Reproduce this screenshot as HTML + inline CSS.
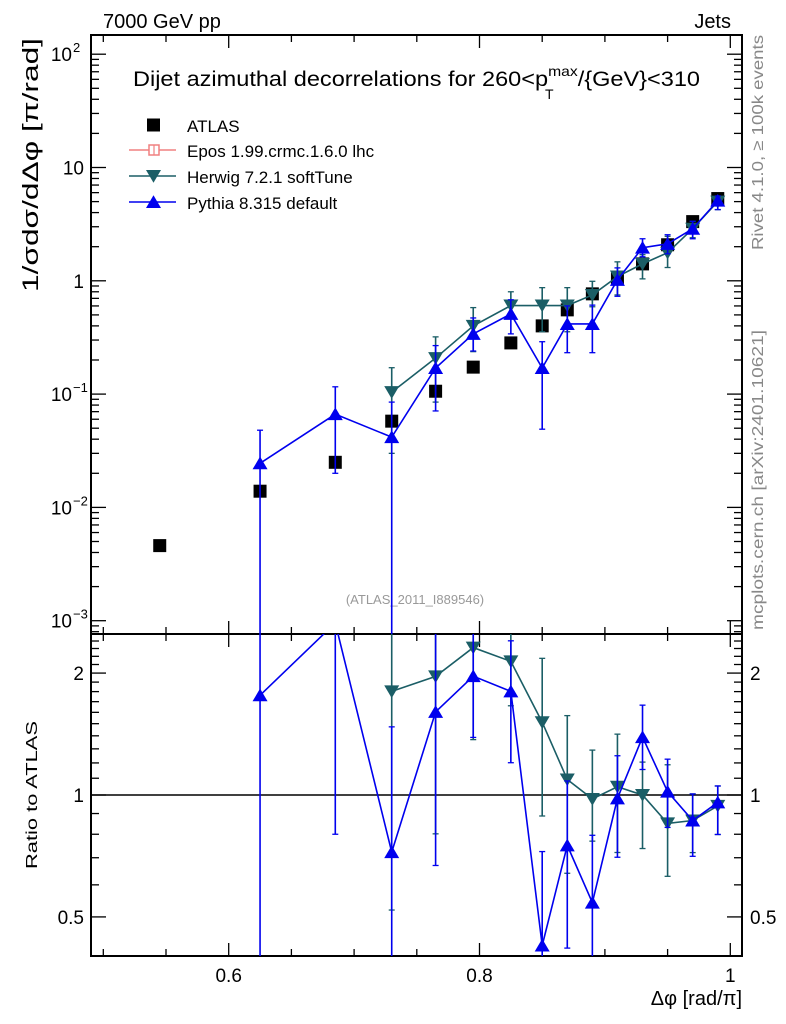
<!DOCTYPE html>
<html><head><meta charset="utf-8"><style>
html,body{margin:0;padding:0;background:#fff;width:786px;height:1024px;overflow:hidden;}
svg{display:block;font-family:"Liberation Sans",sans-serif;}
</style></head><body>
<svg id="chart" width="786" height="1024" viewBox="0 0 786 1024" xmlns="http://www.w3.org/2000/svg">
<defs>
<clipPath id="clipMain"><rect x="91" y="35" width="651" height="599"/></clipPath>
<clipPath id="clipRatio"><rect x="91" y="634" width="651" height="322"/></clipPath>
</defs>
<rect x="0" y="0" width="786" height="1024" fill="#fff"/>
<text x="103" y="28" font-size="20">7000 GeV pp</text>
<text x="731" y="28" font-size="20" text-anchor="end">Jets</text>
<text x="133" y="86" font-size="21" textLength="567" lengthAdjust="spacingAndGlyphs">Dijet azimuthal decorrelations for 260&lt;p<tspan font-size="14" dy="-10">max</tspan><tspan dy="10">/{GeV}&lt;310</tspan></text>
<text x="545" y="99" font-size="14">T</text>
<text transform="translate(38,292) rotate(-90)" font-size="22" textLength="254" lengthAdjust="spacingAndGlyphs">1/σdσ/dΔφ [π/rad]</text>
<text transform="translate(37,869) rotate(-90)" font-size="16" textLength="148" lengthAdjust="spacingAndGlyphs">Ratio to ATLAS</text>
<text x="742" y="1005" font-size="20" text-anchor="end">Δφ [rad/π]</text>
<text transform="translate(763,250) rotate(-90)" font-size="16" fill="#888" textLength="215" lengthAdjust="spacingAndGlyphs">Rivet 4.1.0, ≥ 100k events</text>
<text transform="translate(763,630) rotate(-90)" font-size="16" fill="#888" textLength="300" lengthAdjust="spacingAndGlyphs">mcplots.cern.ch [arXiv:2401.10621]</text>
<text x="415" y="604" font-size="13" fill="#999" text-anchor="middle">(ATLAS_2011_I889546)</text>
<g id="axes"></g>
<g id="mainMarks" clip-path="url(#clipMain)"></g>
<g id="ratioMarks" clip-path="url(#clipRatio)"></g>
<g id="legend"></g>
</svg>
<script>
const xBins = [0.545,0.625,0.685,0.73,0.765,0.795,0.825,0.85,0.87,0.89,0.91,0.93,0.95,0.97,0.99];
const atlasVals = [0.0046,0.0139,0.025,0.0577,0.106,0.173,0.283,0.40,0.554,0.767,1.04,1.41,2.08,3.33,5.32];
const herwigX = [0.73,0.765,0.795,0.825,0.85,0.87,0.89,0.91,0.93,0.95,0.97,0.99];
const herwigVals = [0.104,0.208,0.40,0.605,0.605,0.605,0.75,1.09,1.41,1.77,2.88,5.0];
const herwigUp = [0.171,0.32,0.58,0.80,0.87,0.87,0.99,1.47,1.7,2.47,3.35,5.6];
const herwigDn = [0.03,0.085,0.237,0.47,0.355,0.355,0.59,0.75,1.04,1.31,2.4,4.25];
const pythiaX = [0.625,0.685,0.73,0.765,0.795,0.825,0.85,0.87,0.89,0.91,0.93,0.95,0.97,0.99];
const pythiaVals = [0.0245,0.0665,0.0417,0.170,0.34,0.51,0.170,0.416,0.416,1.02,1.96,2.12,2.88,5.1];
const pythiaUp = [0.048,0.116,0.085,0.268,0.47,0.68,0.29,0.6,0.61,1.3,2.35,2.55,3.35,5.6];
const pythiaDn = [0.00001,0.020,0.00001,0.071,0.24,0.34,0.049,0.232,0.232,0.73,1.63,1.73,2.35,4.25];
const xTickLabels = ["0.6","0.8","1"];
const xTickVals = [0.6,0.8,1.0];
const ratioTickVals = [0.5,1,2];
const ratioTickLabels = ["0.5","1","2"];

const NS="http://www.w3.org/2000/svg";
const L=91,R=742,T=35,MB=634,RB=956;
function X(v){return 103.3+(v-0.5)*1254;}
function YM(v){return 280.8-113.3*Math.log10(v);}
function YR(r){return 795-405*Math.log10(r);}
function mk(tag,attrs,parent){const e=document.createElementNS(NS,tag);for(const k in attrs)e.setAttribute(k,attrs[k]);parent.appendChild(e);return e;}
const axes=document.getElementById('axes');
const mm=document.getElementById('mainMarks');
const rm=document.getElementById('ratioMarks');
const lg=document.getElementById('legend');

let f1=mk('rect',{x:L,y:T,width:R-L,height:MB-T,fill:'none',stroke:'#000','stroke-width':2},axes);

let f2=mk('rect',{x:L,y:MB,width:R-L,height:RB-MB,fill:'none',stroke:'#000','stroke-width':2},axes);


for(let i=0;i<=10;i++){
  const v=0.5+i*0.05; const x=X(v); if(x<L||x>R)continue;
  const major=Math.abs(v*10-Math.round(v*10))<1e-6 && Math.round(v*10)%2===0;
  const len=major?13:7;
  for(const [y0,dir] of [[T,1],[MB,-1],[MB,1],[RB,-1]]){
    const t=mk('line',{x1:x,x2:x,y1:y0,y2:y0+dir*len,stroke:'#000','stroke-width':1.3},axes);
    
  }
}
xTickVals.forEach((v,i)=>{
  const t=mk('text',{x:X(v),y:982,'font-size':19,'text-anchor':'middle'},axes);
  t.textContent=xTickLabels[i];
  
});
for(let d=-4;d<=2;d++){
  for(let m=1;m<=9;m++){
    const v=m*Math.pow(10,d); const y=YM(v); if(y<T||y>MB)continue;
    const len=m===1?15:8;
    const a=mk('line',{x1:L,x2:L+len,y1:y,y2:y,stroke:'#000','stroke-width':1.3},axes);
    
    const b=mk('line',{x1:R,x2:R-len,y1:y,y2:y,stroke:'#000','stroke-width':1.3},axes);
    
  }
}
const decLabels=[[2,'10','2'],[1,'10',''],[0,'1',''],[-1,'10','−1'],[-2,'10','−2'],[-3,'10','−3']];
decLabels.forEach(([d,b,e])=>{
  const y=YM(Math.pow(10,d));
  const t=mk('text',{x:e?72:84,y:y+7,'font-size':19,'text-anchor':'end'},axes);
  t.textContent=b;
  
  if(e){const s=mk('text',{x:73,y:y-2,'font-size':13},axes);s.textContent=e;
  }
});
const rt=[0.4,0.5,0.6,0.7,0.8,0.9,1,1.1,1.2,1.3,1.4,1.5,1.6,1.7,1.8,1.9,2,2.1,2.2,2.3,2.4,2.5];
rt.forEach(v=>{
  const y=YR(v); if(y<MB||y>RB)return;
  const major=ratioTickVals.indexOf(v)>=0; const len=major?15:8;
  const a=mk('line',{x1:L,x2:L+len,y1:y,y2:y,stroke:'#000','stroke-width':1.3},axes);
  
  const b=mk('line',{x1:R,x2:R-len,y1:y,y2:y,stroke:'#000','stroke-width':1.3},axes);
  
});
ratioTickVals.forEach((v,i)=>{
  const y=YR(v);
  const a=mk('text',{x:84,y:y+7,'font-size':19,'text-anchor':'end'},axes);a.textContent=ratioTickLabels[i];
  
  const b=mk('text',{x:750,y:y+7,'font-size':19},axes);b.textContent=ratioTickLabels[i];
  
});
const ref=mk('line',{x1:L,x2:R,y1:YR(1),y2:YR(1),stroke:'#000','stroke-width':1.5},rm);


function tri(cx,cy,down,color,parent,name){
  const s=7.5;
  const pts=down?`${cx-s},${cy-s*0.8} ${cx+s},${cy-s*0.8} ${cx},${cy+s*0.9}`:`${cx-s},${cy+s*0.8} ${cx+s},${cy+s*0.8} ${cx},${cy-s*0.9}`;
  const p=mk('polygon',{points:pts,fill:color},parent);
  
}
function series(xs,vals,up,dn,color,down,name){
  let pts=xs.map((x,i)=>X(x)+','+YM(vals[i])).join(' ');
  const l=mk('polyline',{points:pts,fill:'none',stroke:color,'stroke-width':1.6},mm);
  
  xs.forEach((x,i)=>{
    const cx=X(x);
    const e=mk('line',{x1:cx,x2:cx,y1:YM(up[i]),y2:YM(dn[i]),stroke:color,'stroke-width':1.6},mm);
    
    [up[i],dn[i]].forEach(v=>{const c=mk('line',{x1:cx-3,x2:cx+3,y1:YM(v),y2:YM(v),stroke:color,'stroke-width':1.3},mm);
      });
    tri(cx,YM(vals[i]),down,color,mm,name+'-point');
  });
  const ratioAt=x=>atlasVals[xBins.indexOf(x)];
  pts=xs.map((x,i)=>X(x)+','+YR(vals[i]/ratioAt(x))).join(' ');
  const l2=mk('polyline',{points:pts,fill:'none',stroke:color,'stroke-width':1.6},rm);
  
  xs.forEach((x,i)=>{
    const cx=X(x),a=ratioAt(x);
    const e=mk('line',{x1:cx,x2:cx,y1:YR(up[i]/a),y2:YR(dn[i]/a),stroke:color,'stroke-width':1.6},rm);
    
    [up[i]/a,dn[i]/a].forEach(v=>{const c=mk('line',{x1:cx-3,x2:cx+3,y1:YR(v),y2:YR(v),stroke:color,'stroke-width':1.3},rm);
      });
    tri(cx,YR(vals[i]/a),down,color,rm,name+'-ratio-point');
  });
}
xBins.forEach((x,i)=>{
  const r=mk('rect',{x:X(x)-6.5,y:YM(atlasVals[i])-6.5,width:13,height:13,fill:'#000'},mm);
  
});
series(herwigX,herwigVals,herwigUp,herwigDn,'#1b5e66',true,'herwig');
series(pythiaX,pythiaVals,pythiaUp,pythiaDn,'#0000ee',false,'pythia');

const entries=[['ATLAS',null],['Epos 1.99.crmc.1.6.0 lhc','#f08080'],['Herwig 7.2.1 softTune','#1b5e66'],['Pythia 8.315 default','#0000ee']];
const ly=[125,150,176,202];
entries.forEach((en,i)=>{
  const g=mk('g',{},lg);
  
  const y=ly[i];
  if(i===0){mk('rect',{x:147,y:y-6.5,width:13,height:13,fill:'#000'},g);}
  else{
    mk('line',{x1:129,x2:176,y1:y,y2:y,stroke:en[1],'stroke-width':1.5},g);
    if(i===1){mk('rect',{x:149,y:y-5,width:10,height:10,fill:'#fff',stroke:en[1],'stroke-width':1.5},g);
      mk('line',{x1:154,x2:154,y1:y-5,y2:y+5,stroke:en[1],'stroke-width':1.2},g);}
    else tri(153.5,y,i===2,en[1],g,'legend-marker');
  }
  const t=mk('text',{x:187,y:y+7,'font-size':17},g);t.textContent=en[0];
});
</script>
</body></html>
